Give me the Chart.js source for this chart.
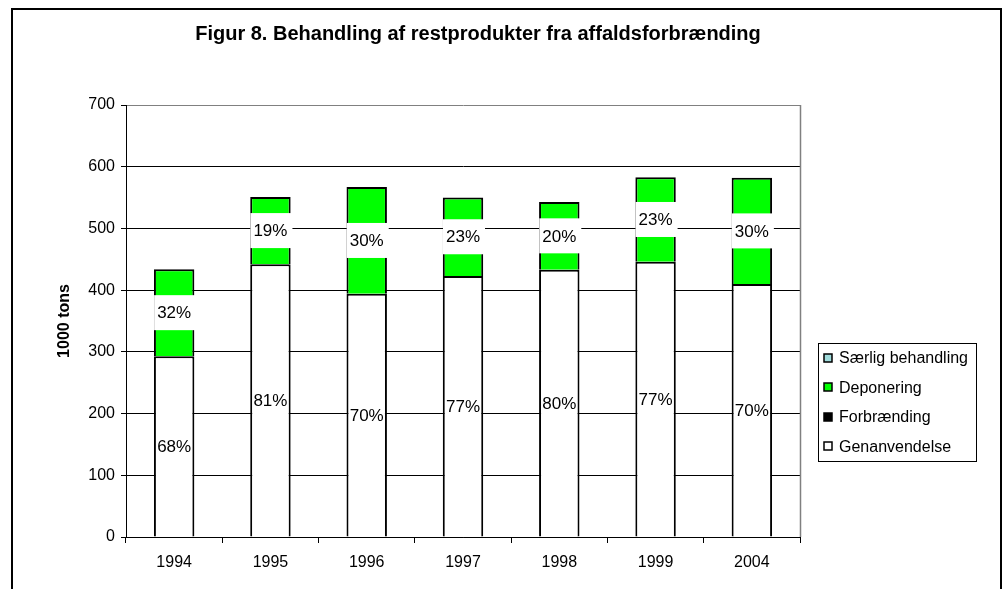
<!DOCTYPE html>
<html>
<head>
<meta charset="utf-8">
<script src="https://cdn.jsdelivr.net/npm/chart.js@4/dist/chart.umd.min.js"></script>
<style>
  html, body { margin: 0; padding: 0; background: #fff; }
  canvas { display: block; }
</style>
</head>
<body>
<canvas id="c" width="1002" height="589"></canvas>
<script>
// ---- data ----
const categories = ['1994', '1995', '1996', '1997', '1998', '1999', '2004'];
const genanvendelse = [293, 442, 394, 423, 433, 446, 410];
const forbraending = [0, 0, 0, 0, 0, 0, 0];
const deponering = [141, 109, 173, 127, 110, 137, 172];
const saerlig = [0, 0, 0, 0, 0, 0, 0];
const pctGenanvendelse = ['68%', '81%', '70%', '77%', '80%', '77%', '70%'];
const pctDeponering = ['32%', '19%', '30%', '23%', '20%', '23%', '30%'];
const yTicks = [0, 100, 200, 300, 400, 500, 600, 700];
const titleText = 'Figur 8. Behandling af restprodukter fra affaldsforbrænding';
const yTitleText = '1000 tons';

const FONT = "'Liberation Sans', Arial, sans-serif";

// dataset index -> [labels, draw white box?]
const labelsByDataset = [[0, pctGenanvendelse, false], [2, pctDeponering, true]];

const decorPlugin = {
  id: 'decor',
  beforeDatasetsDraw(chart) {
    const ctx = chart.ctx, a = chart.chartArea;
    ctx.save();
    ctx.strokeStyle = '#808080';
    ctx.lineWidth = 1.5;
    ctx.beginPath();
    ctx.moveTo(Math.round(a.right) + 0.5, a.top);
    ctx.lineTo(Math.round(a.right) + 0.5, a.bottom);
    ctx.stroke();
    ctx.restore();
  },
  afterDatasetsDraw(chart) {
    const ctx = chart.ctx;
    ctx.save();
    ctx.font = '17px ' + FONT;
    ctx.textAlign = 'center';
    ctx.textBaseline = 'middle';
    labelsByDataset.forEach(([di, txts, boxed]) => {
      const meta = chart.getDatasetMeta(di);
      meta.data.forEach((bar, i) => {
        const t = txts[i];
        const cy = (bar.y + bar.base) / 2;
        if (boxed) {
          const w = ctx.measureText(t).width + 8;
          const h = 35;
          ctx.fillStyle = '#fff';
          ctx.fillRect(bar.x - w / 2 + 1, cy - h / 2, w, h);
        }
        ctx.fillStyle = '#000';
        ctx.fillText(t, bar.x, cy + 1);
      });
    });
    ctx.restore();
  },
  afterDraw(chart) {
    const ctx = chart.ctx;
    ctx.save();
    // outer frame
    ctx.strokeStyle = '#000';
    ctx.lineWidth = 2;
    ctx.strokeRect(12, 9, 989, 600);
    // title
    ctx.fillStyle = '#000';
    ctx.font = 'bold 20px ' + FONT;
    ctx.textAlign = 'center';
    ctx.textBaseline = 'alphabetic';
    ctx.fillText(titleText, 478, 40);
    // y axis title
    ctx.save();
    ctx.translate(65, 321);
    ctx.rotate(-Math.PI / 2);
    ctx.textBaseline = 'middle';
    ctx.font = 'bold 16px ' + FONT;
    ctx.fillText(yTitleText, 0, 0);
    ctx.restore();
    // legend
    const lx = 818, ly = 343, lw = 158, lh = 118;
    ctx.lineWidth = 1;
    ctx.strokeStyle = '#000';
    ctx.strokeRect(lx + 0.5, ly + 0.5, lw, lh);
    const ds = chart.data.datasets.slice().reverse();
    ctx.font = '16px ' + FONT;
    ctx.textAlign = 'left';
    ctx.textBaseline = 'middle';
    ds.forEach((d, i) => {
      const cy = 358 + i * 29.4;
      ctx.fillStyle = d.backgroundColor;
      ctx.fillRect(824, Math.round(cy - 4), 8, 8);
      ctx.strokeStyle = '#000';
      ctx.lineWidth = 1.5;
      ctx.strokeRect(824, Math.round(cy - 4), 8, 8);
      ctx.fillStyle = '#000';
      ctx.fillText(d.label, 839, cy + 1);
    });
    ctx.restore();
  }
};

const barCommon = { borderColor: '#000', borderSkipped: 'bottom',
  categoryPercentage: 1, barPercentage: 0.42 };

new Chart(document.getElementById('c'), {
  type: 'bar',
  data: {
    labels: categories,
    datasets: [
      Object.assign({ label: 'Genanvendelse', data: genanvendelse, backgroundColor: '#ffffff', borderWidth: 2 }, barCommon),
      Object.assign({ label: 'Forbrænding', data: forbraending, backgroundColor: '#000000', borderWidth: 0 }, barCommon),
      Object.assign({ label: 'Deponering', data: deponering, backgroundColor: '#00ff00', borderWidth: 2 }, barCommon),
      Object.assign({ label: 'Særlig behandling', data: saerlig, backgroundColor: '#a0dcdc', borderWidth: 0 }, barCommon)
    ]
  },
  options: {
    responsive: false,
    animation: false,
    devicePixelRatio: 1,
    layout: { padding: { left: 0, right: 202, top: 105, bottom: 0 } },
    plugins: { legend: { display: false }, tooltip: { enabled: false }, title: { display: false } },
    scales: {
      x: {
        stacked: true,
        afterFit(s) { s.height = 52; },
        grid: { display: true, drawOnChartArea: false, drawTicks: true, tickLength: 6, tickColor: '#000', offset: true },
        border: { color: '#000', width: 1 },
        ticks: { color: '#000', font: { family: FONT, size: 16 }, padding: 10, maxRotation: 0 }
      },
      y: {
        stacked: true,
        min: 0, max: 700,
        afterFit(s) { s.width = 126; },
        afterBuildTicks(s) { s.ticks = yTicks.map(v => ({ value: v })); },
        grid: {
          color: c => (c.tick && c.tick.value === 700) ? '#808080' : '#000',
          lineWidth: 1, tickLength: 5, tickColor: '#000'
        },
        border: { color: '#000', width: 1 },
        ticks: { color: '#000', font: { family: FONT, size: 16 }, padding: 6 }
      }
    }
  },
  plugins: [decorPlugin]
});
</script>
</body>
</html>
